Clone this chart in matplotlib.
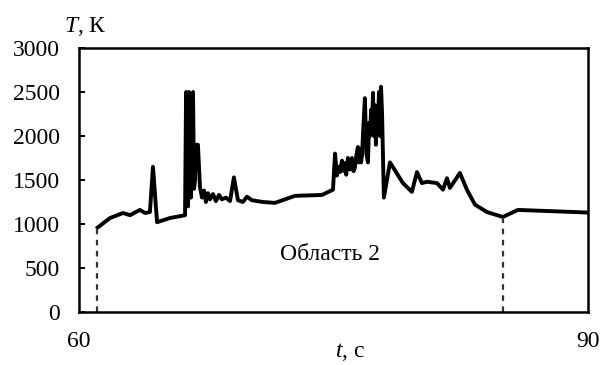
import matplotlib
matplotlib.use("Agg")
import matplotlib.pyplot as plt

# Data (time in s, temperature in K)
t_vals = [61.1, 61.83, 62.59, 63.01, 63.59, 63.89, 64.18, 64.36, 64.60, 65.36,
          66.25, 66.31, 66.37, 66.42, 66.48, 66.54, 66.60, 66.66, 66.72, 66.78, 66.84, 66.89, 67.01, 67.13,
          67.25, 67.37, 67.48, 67.60, 67.72, 67.90, 68.07, 68.25, 68.42, 68.66, 68.90,
          69.13, 69.37, 69.66, 69.90, 70.19, 70.84, 71.55, 72.73, 74.32, 74.97,
          75.09, 75.20, 75.30, 75.38, 75.50, 75.60, 75.67, 75.75, 75.85, 75.97, 76.09, 76.18, 76.26, 76.35, 76.44,
          76.50, 76.56, 76.62, 76.68, 76.76, 76.85, 76.94, 77.03, 77.10, 77.15, 77.22, 77.27, 77.33, 77.38, 77.44,
          77.50, 77.56, 77.62, 77.68, 77.74, 77.80,
          77.86, 77.97, 78.33, 78.62, 79.09, 79.62, 79.92, 80.21, 80.51, 81.10,
          81.45, 81.69, 81.86, 82.45, 82.86, 83.34, 84.04, 84.98, 85.87, 90.0]
T_vals = [960, 1068, 1125, 1100, 1160, 1125, 1136, 1650, 1020, 1068,
          1100, 2500, 1300, 1200, 2500, 1400, 1300, 2450, 2500, 1400, 1500, 1900, 1900, 1420,
          1300, 1380, 1250, 1350, 1280, 1340, 1260, 1330, 1280, 1300, 1260,
          1530, 1270, 1250, 1310, 1270, 1250, 1240, 1320, 1330, 1390,
          1800, 1550, 1650, 1590, 1720, 1600, 1690, 1560, 1750, 1620, 1750, 1600, 1640, 1780, 1875,
          1700, 1850, 1700, 1780, 2100, 2430, 1800, 1700, 2150, 2000, 2300, 2125, 2490, 2000, 2350,
          1900, 2240, 2100, 2500, 2000, 2560,
          2270, 1300, 1700, 1610, 1465, 1365, 1590, 1465, 1480, 1465,
          1390, 1520, 1410, 1580, 1390, 1220, 1136, 1080, 1160, 1130]

region_bounds_t = [61.05, 84.98]
region_bounds_T = [970, 1080]
region_label = "Область 2"

x_ticks = [60, 90]
y_ticks = [0, 500, 1000, 1500, 2000, 2500, 3000]

plt.rcParams['font.family'] = ['Liberation Serif', 'DejaVu Serif']
plt.rcParams['mathtext.fontset'] = 'custom'
plt.rcParams['mathtext.rm'] = 'Liberation Serif'
plt.rcParams['mathtext.it'] = 'Liberation Serif:italic'

fig = plt.figure(figsize=(6.01, 3.65), dpi=100)
ax = fig.add_axes([79/601, 53/365, (588-79)/601, (312-48)/365])

ax.plot(t_vals, T_vals, color='black', linewidth=2.8, solid_joinstyle='round')
for tb, Tb in zip(region_bounds_t, region_bounds_T):
    ax.plot([tb, tb], [0, Tb], color='#333333', linewidth=1.6, linestyle=(0, (2.5, 2.5)))

ax.set_xlim(60, 90)
ax.set_ylim(0, 3000)
ax.set_xticks(x_ticks)
ax.set_yticks(y_ticks)
ax.tick_params(axis='y', direction='in', length=4, width=1.4, pad=14, labelsize=17)
ax.tick_params(axis='x', length=0, pad=14, labelsize=17)
for s in ax.spines.values():
    s.set_linewidth(1.8)

ax.text(74.8, 650, region_label, fontsize=17, ha='center', va='center')
fig.text(85/601, 1 - 26/365, "$T$, К", fontsize=17, ha='center', va='center')
fig.text(350/601, 1 - 352/365, "$t$, с", fontsize=17, ha='center', va='center')

fig.savefig("out.png", dpi=100)
